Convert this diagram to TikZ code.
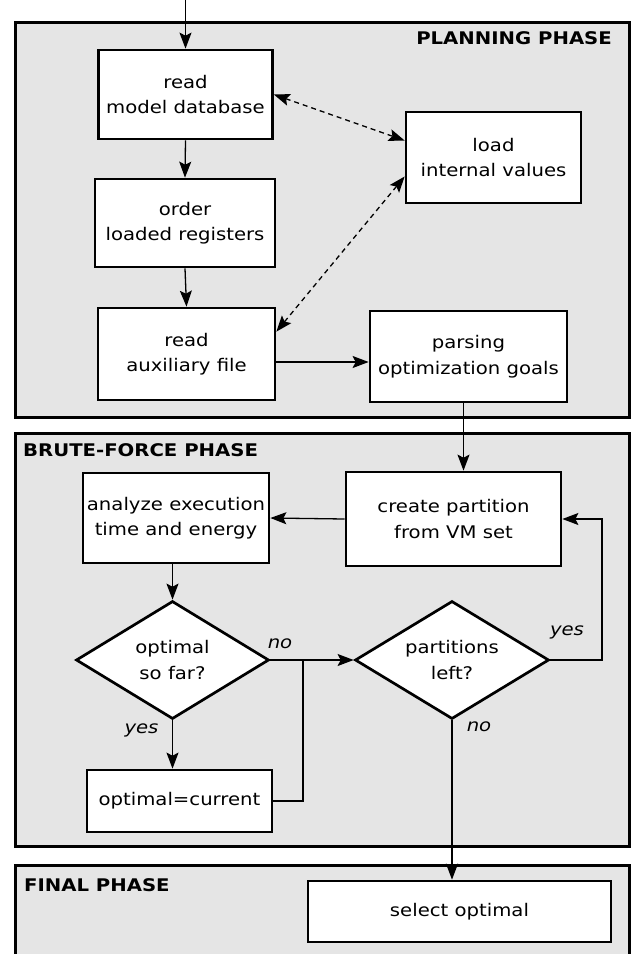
\documentclass[tikz,border=0pt]{standalone}
\usepackage{fontspec}
\setmainfont{DejaVu Sans}[FakeStretch=1.13]
\usetikzlibrary{shapes.geometric,arrows.meta}

\begin{document}
\begin{tikzpicture}[
  x=1pt, y=-1pt,
  every node/.style={font=\fontsize{17.4}{25.5}\selectfont, align=center, inner sep=0pt},
  phase/.style={draw, line width=3pt, fill=black!10},
  phase title/.style={font=\fontsize{17.4}{25.5}\selectfont\bfseries},
  box/.style={draw, line width=2.7pt, fill=white, rectangle},
  decision/.style={draw, line width=2.7pt, fill=white, diamond, aspect=1.6,
    minimum width=193pt, minimum height=118pt},
  answer/.style={font=\fontsize{17.4}{25.5}\selectfont\itshape},
  arrow/.style={line width=1.3pt, -{Stealth[length=16pt,width=12pt,inset=3pt]}},
  link/.style={line width=1.3pt},
  exchange/.style={line width=1.3pt, dash pattern=on 5pt off 4pt,
    {Stealth[length=16pt,width=12pt,inset=3pt]}-{Stealth[length=16pt,width=12pt,inset=3pt]}}
]
\useasboundingbox (0,0) rectangle (642,954);

% Phases
\draw[phase] (15,22) rectangle (629,417);
\draw[phase] (15,433) rectangle (629,846);
\draw[phase] (15,865) rectangle (629,975);
\node[phase title, anchor=east] (plantitle) at (612,38) {PLANNING PHASE};
\node[phase title, anchor=west] (brutetitle) at (23,450) {BRUTE-FORCE PHASE};
\node[phase title, anchor=west] (finaltitle) at (24,885) {FINAL PHASE};

% Planning
\coordinate (start) at (185.5,0);
\node[box, minimum width=174pt, minimum height=89pt] (readdb) at (185.5,94.5) {read\\model database};
\node[box, minimum width=180pt, minimum height=88pt] (order) at (185,223) {order\\loaded registers};
\node[box, minimum width=177pt, minimum height=92pt] (readaux) at (186.5,354) {read\\auxiliary file};
\node[box, minimum width=175pt, minimum height=91pt] (loadval) at (493.5,157.5) {load\\internal values};
\node[box, minimum width=197pt, minimum height=91pt] (parsing) at (468.5,356.5) {parsing\\optimization goals};

% Brute force
\node[box, minimum width=186pt, minimum height=90pt] (analyze) at (176,518) {analyze execution\\time and energy};
\node[box, minimum width=215pt, minimum height=94pt] (create) at (453.5,519) {create partition\\from VM set};
\node[decision] (sofar) at (172.5,660) {optimal\\so far?};
\node[decision, minimum width=194pt] (left) at (452,660) {partitions\\left?};
\node[box, minimum width=185pt, minimum height=62pt] (current) at (179.5,801) {optimal=current};
\coordinate (join) at (303,660);
\coordinate (loop) at (602,660);

% Final
\node[box, minimum width=303pt, minimum height=61pt] (select) at (459.5,911.5) {select optimal};

% Labels
\node[answer] (no1) at (280,644) {no};
\node[answer] (yes1) at (141.5,730) {yes};
\node[answer] (yes2) at (567,632) {yes};
\node[answer] (no2) at (479,727) {no};

% Connectors
\draw[arrow] (start) -- (readdb.north);
\draw[arrow] (readdb.south) -- (order.north);
\draw[arrow] (order.south) -- (readaux.north);
\draw[arrow] ([yshift=-8pt]readaux.east) -- ([yshift=-8pt]readaux.east -| parsing.west);
\draw[exchange] (readdb.east) -- ([yshift=17pt]loadval.west);
\draw[exchange] ([yshift=-19pt]loadval.west) -- ([yshift=-25pt]readaux.north east);
\draw[arrow] ([xshift=-5pt]parsing.south) -- ([xshift=-5pt]parsing.south |- create.north);
\draw[arrow] (create.west) -- (analyze.east);
\draw[arrow] (analyze.south -| sofar.north) -- (sofar.north);
\draw[arrow] (sofar.east) -- (left.west);
\draw[arrow] (sofar.south) -- (sofar.south |- current.north);
\draw[link] (current.east) -| (join);
\draw[arrow] (left.east) -- (loop) |- (create.east);
\draw[arrow] (left.south) -- (left.south |- select.north);
\end{tikzpicture}
\end{document}
